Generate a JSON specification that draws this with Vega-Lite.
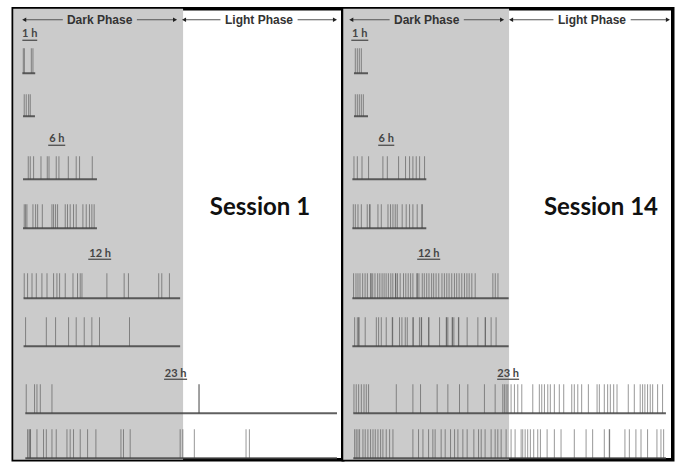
{
"$schema": "https://vega.github.io/schema/vega-lite/v6.json",
"padding": {"left": 11.25, "top": 6.75, "right": 0, "bottom": 0},
"background": "white",
"config": {"view": {"stroke": "#000", "strokeWidth": 3.5}},
"datasets": {"layout": [
{"row": "header", "y": 11},
{"row": "title", "y": 199.5},
{"row": "L1", "y": 25.5}, {"row": "U1", "y": 31.5},
{"row": "L6", "y": 130.5}, {"row": "U6", "y": 136.5},
{"row": "L12", "y": 245.5}, {"row": "U12", "y": 250.5},
{"row": "L23", "y": 365.5}, {"row": "U23", "y": 370.5},
{"row": "1a", "y": 64.5, "y2": 39.5},
{"row": "1b", "y": 107.5, "y2": 85.5},
{"row": "6a", "y": 170.5, "y2": 147.5},
{"row": "6b", "y": 219.5, "y2": 195.5},
{"row": "12a", "y": 289.5, "y2": 264.5},
{"row": "12b", "y": 337.5, "y2": 308.5},
{"row": "23a", "y": 404.5, "y2": 375.5},
{"row": "23b", "y": 449.5, "y2": 420.5}
]},
"data": {"values": [
{"session": 1, "kind": "dark", "t": -0.75, "t2": 11.93},
{"session": 14, "kind": "dark", "t": -0.75, "t2": 11.63},
{"session": 1, "kind": "arrow", "row": "header", "t": 0.07, "t2": 2.95},
{"session": 1, "kind": "arrow", "row": "header", "t": 8.48, "t2": 11.33},
{"session": 1, "kind": "arrow", "row": "header", "t": 12.0, "t2": 14.72},
{"session": 1, "kind": "arrow", "row": "header", "t": 20.48, "t2": 23.27},
{"session": 14, "kind": "arrow", "row": "header", "t": -0.15, "t2": 2.71},
{"session": 14, "kind": "arrow", "row": "header", "t": 8.25, "t2": 11.11},
{"session": 14, "kind": "arrow", "row": "header", "t": 11.78, "t2": 14.94},
{"session": 14, "kind": "arrow", "row": "header", "t": 20.71, "t2": 23.49},
{"session": 1, "kind": "head", "row": "header", "t": 0.07, "dir": "left"},
{"session": 1, "kind": "head", "row": "header", "t": 11.33, "dir": "right"},
{"session": 1, "kind": "head", "row": "header", "t": 12.0, "dir": "left"},
{"session": 1, "kind": "head", "row": "header", "t": 23.27, "dir": "right"},
{"session": 14, "kind": "head", "row": "header", "t": -0.15, "dir": "left"},
{"session": 14, "kind": "head", "row": "header", "t": 11.11, "dir": "right"},
{"session": 14, "kind": "head", "row": "header", "t": 11.78, "dir": "left"},
{"session": 14, "kind": "head", "row": "header", "t": 23.49, "dir": "right"},
{"session": 1, "kind": "phase", "row": "header", "t": 5.7, "label": "Dark Phase"},
{"session": 1, "kind": "phase", "row": "header", "t": 17.6, "label": "Light Phase"},
{"session": 14, "kind": "phase", "row": "header", "t": 5.48, "label": "Dark Phase"},
{"session": 14, "kind": "phase", "row": "header", "t": 17.82, "label": "Light Phase"},
{"session": 1, "kind": "title", "row": "title", "t": 17.67, "label": "Session 1"},
{"session": 14, "kind": "title", "row": "title", "t": 18.49, "label": "Session 14"},
{"session": 1, "kind": "rowlabel", "row": "L1", "t": 0.48, "label": "1 h"},
{"session": 1, "kind": "rowlabel", "row": "L6", "t": 2.51, "label": "6 h"},
{"session": 1, "kind": "rowlabel", "row": "L12", "t": 5.74, "label": "12 h"},
{"session": 1, "kind": "rowlabel", "row": "L23", "t": 11.37, "label": "23 h"},
{"session": 14, "kind": "rowlabel", "row": "L1", "t": 0.48, "label": "1 h"},
{"session": 14, "kind": "rowlabel", "row": "L6", "t": 2.46, "label": "6 h"},
{"session": 14, "kind": "rowlabel", "row": "L12", "t": 5.63, "label": "12 h"},
{"session": 14, "kind": "rowlabel", "row": "L23", "t": 11.56, "label": "23 h"},
{"session": 1, "kind": "ul", "row": "U1", "t": -0.07, "t2": 1.04},
{"session": 1, "kind": "ul", "row": "U6", "t": 1.86, "t2": 3.13},
{"session": 1, "kind": "ul", "row": "U12", "t": 4.85, "t2": 6.56},
{"session": 1, "kind": "ul", "row": "U23", "t": 10.51, "t2": 12.23},
{"session": 14, "kind": "ul", "row": "U1", "t": -0.15, "t2": 1.12},
{"session": 14, "kind": "ul", "row": "U6", "t": 1.86, "t2": 3.06},
{"session": 14, "kind": "ul", "row": "U12", "t": 4.77, "t2": 6.49},
{"session": 14, "kind": "ul", "row": "U23", "t": 10.74, "t2": 12.38},
{"session": 1, "kind": "base", "row": "1a", "t": -0.07, "t2": 0.89},
{"session": 1, "kind": "base", "row": "1b", "t": -0.02, "t2": 0.87},
{"session": 1, "kind": "base", "row": "6a", "t": -0.02, "t2": 5.5},
{"session": 1, "kind": "base", "row": "6b", "t": -0.02, "t2": 5.5},
{"session": 1, "kind": "base", "row": "12a", "t": 0.02, "t2": 11.71},
{"session": 1, "kind": "base", "row": "12b", "t": 0.02, "t2": 11.71},
{"session": 1, "kind": "base", "row": "23a", "t": 0.15, "t2": 23.42},
{"session": 1, "kind": "base", "row": "23b", "t": 0.15, "t2": 23.42},
{"session": 14, "kind": "base", "row": "1a", "t": 0.05, "t2": 1.1},
{"session": 14, "kind": "base", "row": "1b", "t": 0.05, "t2": 1.1},
{"session": 14, "kind": "base", "row": "6a", "t": -0.07, "t2": 5.45},
{"session": 14, "kind": "base", "row": "6b", "t": -0.07, "t2": 5.45},
{"session": 14, "kind": "base", "row": "12a", "t": -0.07, "t2": 11.6},
{"session": 14, "kind": "base", "row": "12b", "t": -0.07, "t2": 11.6},
{"session": 14, "kind": "base", "row": "23a", "t": 0.0, "t2": 23.34},
{"session": 14, "kind": "base", "row": "23b", "t": 0.0, "t2": 23.34},

{"session": 1, "kind": "event", "row": "1a", "t": 0.0},
{"session": 1, "kind": "event", "row": "1a", "t": 0.08},
{"session": 1, "kind": "event", "row": "1a", "t": 0.6},
{"session": 1, "kind": "event", "row": "1a", "t": 0.72},
{"session": 1, "kind": "event", "row": "1b", "t": 0.07},
{"session": 1, "kind": "event", "row": "1b", "t": 0.22},
{"session": 1, "kind": "event", "row": "1b", "t": 0.4},
{"session": 1, "kind": "event", "row": "1b", "t": 0.52},

{"session": 1, "kind": "event", "row": "6a", "t": 0.37},
{"session": 1, "kind": "event", "row": "6a", "t": 0.52},
{"session": 1, "kind": "event", "row": "6a", "t": 0.77},
{"session": 1, "kind": "event", "row": "6a", "t": 1.32},
{"session": 1, "kind": "event", "row": "6a", "t": 1.79},
{"session": 1, "kind": "event", "row": "6a", "t": 1.92},
{"session": 1, "kind": "event", "row": "6a", "t": 2.46},
{"session": 1, "kind": "event", "row": "6a", "t": 2.66},
{"session": 1, "kind": "event", "row": "6a", "t": 3.36},
{"session": 1, "kind": "event", "row": "6a", "t": 3.95},
{"session": 1, "kind": "event", "row": "6a", "t": 4.2},
{"session": 1, "kind": "event", "row": "6a", "t": 5.15},

{"session": 1, "kind": "event", "row": "6b", "t": 0.07},
{"session": 1, "kind": "event", "row": "6b", "t": 0.17},
{"session": 1, "kind": "event", "row": "6b", "t": 0.27},
{"session": 1, "kind": "event", "row": "6b", "t": 0.72},
{"session": 1, "kind": "event", "row": "6b", "t": 0.92},
{"session": 1, "kind": "event", "row": "6b", "t": 1.07},
{"session": 1, "kind": "event", "row": "6b", "t": 1.42},
{"session": 1, "kind": "event", "row": "6b", "t": 2.14},
{"session": 1, "kind": "event", "row": "6b", "t": 2.26},
{"session": 1, "kind": "event", "row": "6b", "t": 2.41},
{"session": 1, "kind": "event", "row": "6b", "t": 2.56},
{"session": 1, "kind": "event", "row": "6b", "t": 3.13},
{"session": 1, "kind": "event", "row": "6b", "t": 3.3},
{"session": 1, "kind": "event", "row": "6b", "t": 3.5},
{"session": 1, "kind": "event", "row": "6b", "t": 3.75},
{"session": 1, "kind": "event", "row": "6b", "t": 3.95},
{"session": 1, "kind": "event", "row": "6b", "t": 4.45},
{"session": 1, "kind": "event", "row": "6b", "t": 4.7},
{"session": 1, "kind": "event", "row": "6b", "t": 4.94},
{"session": 1, "kind": "event", "row": "6b", "t": 5.12},
{"session": 1, "kind": "event", "row": "6b", "t": 5.29},

{"session": 1, "kind": "event", "row": "12a", "t": 0.07},
{"session": 1, "kind": "event", "row": "12a", "t": 0.32},
{"session": 1, "kind": "event", "row": "12a", "t": 0.65},
{"session": 1, "kind": "event", "row": "12a", "t": 0.97},
{"session": 1, "kind": "event", "row": "12a", "t": 1.39},
{"session": 1, "kind": "event", "row": "12a", "t": 1.77},
{"session": 1, "kind": "event", "row": "12a", "t": 2.26},
{"session": 1, "kind": "event", "row": "12a", "t": 2.51},
{"session": 1, "kind": "event", "row": "12a", "t": 2.71},
{"session": 1, "kind": "event", "row": "12a", "t": 3.13},
{"session": 1, "kind": "event", "row": "12a", "t": 3.71},
{"session": 1, "kind": "event", "row": "12a", "t": 4.05},
{"session": 1, "kind": "event", "row": "12a", "t": 4.25},
{"session": 1, "kind": "event", "row": "12a", "t": 4.38},
{"session": 1, "kind": "event", "row": "12a", "t": 6.24},
{"session": 1, "kind": "event", "row": "12a", "t": 7.53},
{"session": 1, "kind": "event", "row": "12a", "t": 7.85},
{"session": 1, "kind": "event", "row": "12a", "t": 10.11},
{"session": 1, "kind": "event", "row": "12a", "t": 10.34},
{"session": 1, "kind": "event", "row": "12a", "t": 10.91},

{"session": 1, "kind": "event", "row": "12b", "t": 0.17},
{"session": 1, "kind": "event", "row": "12b", "t": 1.72},
{"session": 1, "kind": "event", "row": "12b", "t": 2.41},
{"session": 1, "kind": "event", "row": "12b", "t": 3.38},
{"session": 1, "kind": "event", "row": "12b", "t": 3.95},
{"session": 1, "kind": "event", "row": "12b", "t": 4.55},
{"session": 1, "kind": "event", "row": "12b", "t": 5.12},
{"session": 1, "kind": "event", "row": "12b", "t": 5.69},
{"session": 1, "kind": "event", "row": "12b", "t": 7.93},

{"session": 1, "kind": "event", "row": "23a", "t": 0.22},
{"session": 1, "kind": "event", "row": "23a", "t": 0.84},
{"session": 1, "kind": "event", "row": "23a", "t": 1.02},
{"session": 1, "kind": "event", "row": "23a", "t": 1.27},
{"session": 1, "kind": "event", "row": "23a", "t": 2.14},
{"session": 1, "kind": "event", "row": "23a", "t": 13.1},
{"session": 1, "kind": "event", "row": "23a", "t": 13.14},

{"session": 1, "kind": "event", "row": "23b", "t": 0.32},
{"session": 1, "kind": "event", "row": "23b", "t": 0.43},
{"session": 1, "kind": "event", "row": "23b", "t": 0.5},
{"session": 1, "kind": "event", "row": "23b", "t": 0.54},
{"session": 1, "kind": "event", "row": "23b", "t": 1.02},
{"session": 1, "kind": "event", "row": "23b", "t": 1.51},
{"session": 1, "kind": "event", "row": "23b", "t": 1.72},
{"session": 1, "kind": "event", "row": "23b", "t": 2.14},
{"session": 1, "kind": "event", "row": "23b", "t": 2.46},
{"session": 1, "kind": "event", "row": "23b", "t": 3.26},
{"session": 1, "kind": "event", "row": "23b", "t": 3.5},
{"session": 1, "kind": "event", "row": "23b", "t": 3.75},
{"session": 1, "kind": "event", "row": "23b", "t": 4.25},
{"session": 1, "kind": "event", "row": "23b", "t": 4.8},
{"session": 1, "kind": "event", "row": "23b", "t": 5.42},
{"session": 1, "kind": "event", "row": "23b", "t": 7.29},
{"session": 1, "kind": "event", "row": "23b", "t": 7.48},
{"session": 1, "kind": "event", "row": "23b", "t": 7.98},
{"session": 1, "kind": "event", "row": "23b", "t": 11.71},
{"session": 1, "kind": "event", "row": "23b", "t": 11.91},
{"session": 1, "kind": "event", "row": "23b", "t": 12.77},
{"session": 1, "kind": "event", "row": "23b", "t": 16.63},
{"session": 1, "kind": "event", "row": "23b", "t": 16.88},

{"session": 14, "kind": "event", "row": "1a", "t": 0.15},
{"session": 14, "kind": "event", "row": "1a", "t": 0.3},
{"session": 14, "kind": "event", "row": "1a", "t": 0.45},
{"session": 14, "kind": "event", "row": "1a", "t": 0.6},
{"session": 14, "kind": "event", "row": "1b", "t": 0.15},
{"session": 14, "kind": "event", "row": "1b", "t": 0.3},
{"session": 14, "kind": "event", "row": "1b", "t": 0.45},
{"session": 14, "kind": "event", "row": "1b", "t": 0.6},
{"session": 14, "kind": "event", "row": "1b", "t": 0.75},

{"session": 14, "kind": "event", "row": "6a", "t": 0.05},
{"session": 14, "kind": "event", "row": "6a", "t": 0.3},
{"session": 14, "kind": "event", "row": "6a", "t": 0.65},
{"session": 14, "kind": "event", "row": "6a", "t": 1.14},
{"session": 14, "kind": "event", "row": "6a", "t": 2.21},
{"session": 14, "kind": "event", "row": "6a", "t": 2.54},
{"session": 14, "kind": "event", "row": "6a", "t": 3.38},
{"session": 14, "kind": "event", "row": "6a", "t": 3.9},
{"session": 14, "kind": "event", "row": "6a", "t": 4.2},
{"session": 14, "kind": "event", "row": "6a", "t": 4.45},
{"session": 14, "kind": "event", "row": "6a", "t": 4.7},
{"session": 14, "kind": "event", "row": "6a", "t": 4.95},
{"session": 14, "kind": "event", "row": "6a", "t": 5.32},

{"session": 14, "kind": "event", "row": "6b", "t": 0.0},
{"session": 14, "kind": "event", "row": "6b", "t": 0.15},
{"session": 14, "kind": "event", "row": "6b", "t": 0.35},
{"session": 14, "kind": "event", "row": "6b", "t": 0.6},
{"session": 14, "kind": "event", "row": "6b", "t": 1.04},
{"session": 14, "kind": "event", "row": "6b", "t": 1.22},
{"session": 14, "kind": "event", "row": "6b", "t": 1.25},
{"session": 14, "kind": "event", "row": "6b", "t": 1.84},
{"session": 14, "kind": "event", "row": "6b", "t": 2.09},
{"session": 14, "kind": "event", "row": "6b", "t": 2.59},
{"session": 14, "kind": "event", "row": "6b", "t": 2.78},
{"session": 14, "kind": "event", "row": "6b", "t": 2.96},
{"session": 14, "kind": "event", "row": "6b", "t": 3.13},
{"session": 14, "kind": "event", "row": "6b", "t": 3.28},
{"session": 14, "kind": "event", "row": "6b", "t": 3.65},
{"session": 14, "kind": "event", "row": "6b", "t": 3.95},
{"session": 14, "kind": "event", "row": "6b", "t": 4.2},
{"session": 14, "kind": "event", "row": "6b", "t": 4.45},
{"session": 14, "kind": "event", "row": "6b", "t": 4.77},
{"session": 14, "kind": "event", "row": "6b", "t": 5.12},
{"session": 14, "kind": "event", "row": "6b", "t": 5.15},

{"session": 14, "kind": "event", "row": "12a", "t": 0.02},
{"session": 14, "kind": "event", "row": "12a", "t": 0.2},
{"session": 14, "kind": "event", "row": "12a", "t": 0.35},
{"session": 14, "kind": "event", "row": "12a", "t": 0.5},
{"session": 14, "kind": "event", "row": "12a", "t": 0.7},
{"session": 14, "kind": "event", "row": "12a", "t": 0.88},
{"session": 14, "kind": "event", "row": "12a", "t": 1.05},
{"session": 14, "kind": "event", "row": "12a", "t": 1.3},
{"session": 14, "kind": "event", "row": "12a", "t": 1.33},
{"session": 14, "kind": "event", "row": "12a", "t": 1.45},
{"session": 14, "kind": "event", "row": "12a", "t": 1.62},
{"session": 14, "kind": "event", "row": "12a", "t": 1.82},
{"session": 14, "kind": "event", "row": "12a", "t": 1.98},
{"session": 14, "kind": "event", "row": "12a", "t": 2.15},
{"session": 14, "kind": "event", "row": "12a", "t": 2.3},
{"session": 14, "kind": "event", "row": "12a", "t": 2.45},
{"session": 14, "kind": "event", "row": "12a", "t": 2.62},
{"session": 14, "kind": "event", "row": "12a", "t": 2.8},
{"session": 14, "kind": "event", "row": "12a", "t": 2.95},
{"session": 14, "kind": "event", "row": "12a", "t": 3.15},
{"session": 14, "kind": "event", "row": "12a", "t": 3.18},
{"session": 14, "kind": "event", "row": "12a", "t": 3.3},
{"session": 14, "kind": "event", "row": "12a", "t": 3.5},
{"session": 14, "kind": "event", "row": "12a", "t": 3.75},
{"session": 14, "kind": "event", "row": "12a", "t": 3.92},
{"session": 14, "kind": "event", "row": "12a", "t": 4.1},
{"session": 14, "kind": "event", "row": "12a", "t": 4.28},
{"session": 14, "kind": "event", "row": "12a", "t": 4.45},
{"session": 14, "kind": "event", "row": "12a", "t": 4.75},
{"session": 14, "kind": "event", "row": "12a", "t": 4.78},
{"session": 14, "kind": "event", "row": "12a", "t": 4.9},
{"session": 14, "kind": "event", "row": "12a", "t": 5.15},
{"session": 14, "kind": "event", "row": "12a", "t": 5.3},
{"session": 14, "kind": "event", "row": "12a", "t": 5.48},
{"session": 14, "kind": "event", "row": "12a", "t": 5.65},
{"session": 14, "kind": "event", "row": "12a", "t": 5.85},
{"session": 14, "kind": "event", "row": "12a", "t": 6.0},
{"session": 14, "kind": "event", "row": "12a", "t": 6.18},
{"session": 14, "kind": "event", "row": "12a", "t": 6.38},
{"session": 14, "kind": "event", "row": "12a", "t": 6.62},
{"session": 14, "kind": "event", "row": "12a", "t": 6.8},
{"session": 14, "kind": "event", "row": "12a", "t": 6.98},
{"session": 14, "kind": "event", "row": "12a", "t": 7.15},
{"session": 14, "kind": "event", "row": "12a", "t": 7.35},
{"session": 14, "kind": "event", "row": "12a", "t": 7.55},
{"session": 14, "kind": "event", "row": "12a", "t": 7.72},
{"session": 14, "kind": "event", "row": "12a", "t": 7.9},
{"session": 14, "kind": "event", "row": "12a", "t": 8.1},
{"session": 14, "kind": "event", "row": "12a", "t": 8.3},
{"session": 14, "kind": "event", "row": "12a", "t": 8.48},
{"session": 14, "kind": "event", "row": "12a", "t": 8.65},
{"session": 14, "kind": "event", "row": "12a", "t": 8.85},
{"session": 14, "kind": "event", "row": "12a", "t": 9.1},
{"session": 14, "kind": "event", "row": "12a", "t": 10.42},
{"session": 14, "kind": "event", "row": "12a", "t": 10.6},
{"session": 14, "kind": "event", "row": "12a", "t": 10.8},

{"session": 14, "kind": "event", "row": "12b", "t": 0.1},
{"session": 14, "kind": "event", "row": "12b", "t": 0.3},
{"session": 14, "kind": "event", "row": "12b", "t": 0.4},
{"session": 14, "kind": "event", "row": "12b", "t": 0.43},
{"session": 14, "kind": "event", "row": "12b", "t": 0.89},
{"session": 14, "kind": "event", "row": "12b", "t": 1.72},
{"session": 14, "kind": "event", "row": "12b", "t": 1.89},
{"session": 14, "kind": "event", "row": "12b", "t": 2.09},
{"session": 14, "kind": "event", "row": "12b", "t": 2.46},
{"session": 14, "kind": "event", "row": "12b", "t": 2.91},
{"session": 14, "kind": "event", "row": "12b", "t": 2.94},
{"session": 14, "kind": "event", "row": "12b", "t": 3.45},
{"session": 14, "kind": "event", "row": "12b", "t": 3.63},
{"session": 14, "kind": "event", "row": "12b", "t": 3.88},
{"session": 14, "kind": "event", "row": "12b", "t": 4.03},
{"session": 14, "kind": "event", "row": "12b", "t": 4.45},
{"session": 14, "kind": "event", "row": "12b", "t": 4.48},
{"session": 14, "kind": "event", "row": "12b", "t": 4.94},
{"session": 14, "kind": "event", "row": "12b", "t": 5.07},
{"session": 14, "kind": "event", "row": "12b", "t": 5.1},
{"session": 14, "kind": "event", "row": "12b", "t": 5.62},
{"session": 14, "kind": "event", "row": "12b", "t": 5.65},
{"session": 14, "kind": "event", "row": "12b", "t": 6.44},
{"session": 14, "kind": "event", "row": "12b", "t": 6.94},
{"session": 14, "kind": "event", "row": "12b", "t": 6.97},
{"session": 14, "kind": "event", "row": "12b", "t": 7.06},
{"session": 14, "kind": "event", "row": "12b", "t": 7.38},
{"session": 14, "kind": "event", "row": "12b", "t": 7.41},
{"session": 14, "kind": "event", "row": "12b", "t": 7.51},
{"session": 14, "kind": "event", "row": "12b", "t": 7.85},
{"session": 14, "kind": "event", "row": "12b", "t": 7.88},
{"session": 14, "kind": "event", "row": "12b", "t": 8.5},
{"session": 14, "kind": "event", "row": "12b", "t": 9.3},
{"session": 14, "kind": "event", "row": "12b", "t": 9.84},
{"session": 14, "kind": "event", "row": "12b", "t": 9.87},
{"session": 14, "kind": "event", "row": "12b", "t": 10.29},
{"session": 14, "kind": "event", "row": "12b", "t": 10.66},

{"session": 14, "kind": "event", "row": "23a", "t": 0.05},
{"session": 14, "kind": "event", "row": "23a", "t": 0.22},
{"session": 14, "kind": "event", "row": "23a", "t": 0.4},
{"session": 14, "kind": "event", "row": "23a", "t": 0.6},
{"session": 14, "kind": "event", "row": "23a", "t": 0.8},
{"session": 14, "kind": "event", "row": "23a", "t": 0.97},
{"session": 14, "kind": "event", "row": "23a", "t": 1.14},
{"session": 14, "kind": "event", "row": "23a", "t": 3.21},
{"session": 14, "kind": "event", "row": "23a", "t": 4.45},
{"session": 14, "kind": "event", "row": "23a", "t": 5.02},
{"session": 14, "kind": "event", "row": "23a", "t": 6.26},
{"session": 14, "kind": "event", "row": "23a", "t": 7.06},
{"session": 14, "kind": "event", "row": "23a", "t": 7.93},
{"session": 14, "kind": "event", "row": "23a", "t": 8.55},
{"session": 14, "kind": "event", "row": "23a", "t": 9.79},
{"session": 14, "kind": "event", "row": "23a", "t": 10.59},
{"session": 14, "kind": "event", "row": "23a", "t": 11.16},
{"session": 14, "kind": "event", "row": "23a", "t": 11.28},
{"session": 14, "kind": "event", "row": "23a", "t": 11.41},
{"session": 14, "kind": "event", "row": "23a", "t": 11.54},
{"session": 14, "kind": "event", "row": "23a", "t": 11.78},
{"session": 14, "kind": "event", "row": "23a", "t": 12.03},
{"session": 14, "kind": "event", "row": "23a", "t": 12.28},
{"session": 14, "kind": "event", "row": "23a", "t": 12.58},
{"session": 14, "kind": "event", "row": "23a", "t": 13.4},
{"session": 14, "kind": "event", "row": "23a", "t": 13.89},
{"session": 14, "kind": "event", "row": "23a", "t": 14.07},
{"session": 14, "kind": "event", "row": "23a", "t": 14.27},
{"session": 14, "kind": "event", "row": "23a", "t": 14.52},
{"session": 14, "kind": "event", "row": "23a", "t": 14.71},
{"session": 14, "kind": "event", "row": "23a", "t": 15.01},
{"session": 14, "kind": "event", "row": "23a", "t": 15.38},
{"session": 14, "kind": "event", "row": "23a", "t": 15.71},
{"session": 14, "kind": "event", "row": "23a", "t": 16.31},
{"session": 14, "kind": "event", "row": "23a", "t": 16.5},
{"session": 14, "kind": "event", "row": "23a", "t": 16.76},
{"session": 14, "kind": "event", "row": "23a", "t": 17.05},
{"session": 14, "kind": "event", "row": "23a", "t": 17.55},
{"session": 14, "kind": "event", "row": "23a", "t": 18.2},
{"session": 14, "kind": "event", "row": "23a", "t": 18.37},
{"session": 14, "kind": "event", "row": "23a", "t": 18.74},
{"session": 14, "kind": "event", "row": "23a", "t": 18.99},
{"session": 14, "kind": "event", "row": "23a", "t": 19.19},
{"session": 14, "kind": "event", "row": "23a", "t": 19.44},
{"session": 14, "kind": "event", "row": "23a", "t": 19.69},
{"session": 14, "kind": "event", "row": "23a", "t": 20.53},
{"session": 14, "kind": "event", "row": "23a", "t": 20.98},
{"session": 14, "kind": "event", "row": "23a", "t": 21.42},
{"session": 14, "kind": "event", "row": "23a", "t": 21.6},
{"session": 14, "kind": "event", "row": "23a", "t": 21.77},
{"session": 14, "kind": "event", "row": "23a", "t": 21.97},
{"session": 14, "kind": "event", "row": "23a", "t": 22.17},
{"session": 14, "kind": "event", "row": "23a", "t": 22.35},
{"session": 14, "kind": "event", "row": "23a", "t": 22.72},
{"session": 14, "kind": "event", "row": "23a", "t": 23.09},

{"session": 14, "kind": "event", "row": "23b", "t": 0.1},
{"session": 14, "kind": "event", "row": "23b", "t": 0.22},
{"session": 14, "kind": "event", "row": "23b", "t": 0.35},
{"session": 14, "kind": "event", "row": "23b", "t": 0.47},
{"session": 14, "kind": "event", "row": "23b", "t": 0.72},
{"session": 14, "kind": "event", "row": "23b", "t": 0.89},
{"session": 14, "kind": "event", "row": "23b", "t": 1.09},
{"session": 14, "kind": "event", "row": "23b", "t": 1.29},
{"session": 14, "kind": "event", "row": "23b", "t": 1.47},
{"session": 14, "kind": "event", "row": "23b", "t": 1.64},
{"session": 14, "kind": "event", "row": "23b", "t": 1.84},
{"session": 14, "kind": "event", "row": "23b", "t": 2.04},
{"session": 14, "kind": "event", "row": "23b", "t": 2.21},
{"session": 14, "kind": "event", "row": "23b", "t": 2.46},
{"session": 14, "kind": "event", "row": "23b", "t": 2.71},
{"session": 14, "kind": "event", "row": "23b", "t": 2.96},
{"session": 14, "kind": "event", "row": "23b", "t": 4.45},
{"session": 14, "kind": "event", "row": "23b", "t": 4.87},
{"session": 14, "kind": "event", "row": "23b", "t": 5.2},
{"session": 14, "kind": "event", "row": "23b", "t": 5.62},
{"session": 14, "kind": "event", "row": "23b", "t": 5.94},
{"session": 14, "kind": "event", "row": "23b", "t": 6.11},
{"session": 14, "kind": "event", "row": "23b", "t": 6.56},
{"session": 14, "kind": "event", "row": "23b", "t": 6.86},
{"session": 14, "kind": "event", "row": "23b", "t": 7.26},
{"session": 14, "kind": "event", "row": "23b", "t": 7.56},
{"session": 14, "kind": "event", "row": "23b", "t": 7.81},
{"session": 14, "kind": "event", "row": "23b", "t": 8.18},
{"session": 14, "kind": "event", "row": "23b", "t": 8.5},
{"session": 14, "kind": "event", "row": "23b", "t": 9.0},
{"session": 14, "kind": "event", "row": "23b", "t": 9.35},
{"session": 14, "kind": "event", "row": "23b", "t": 9.55},
{"session": 14, "kind": "event", "row": "23b", "t": 9.84},
{"session": 14, "kind": "event", "row": "23b", "t": 10.29},
{"session": 14, "kind": "event", "row": "23b", "t": 10.59},
{"session": 14, "kind": "event", "row": "23b", "t": 10.79},
{"session": 14, "kind": "event", "row": "23b", "t": 11.04},
{"session": 14, "kind": "event", "row": "23b", "t": 11.41},
{"session": 14, "kind": "event", "row": "23b", "t": 11.78},
{"session": 14, "kind": "event", "row": "23b", "t": 12.08},
{"session": 14, "kind": "event", "row": "23b", "t": 12.53},
{"session": 14, "kind": "event", "row": "23b", "t": 12.65},
{"session": 14, "kind": "event", "row": "23b", "t": 12.83},
{"session": 14, "kind": "event", "row": "23b", "t": 13.02},
{"session": 14, "kind": "event", "row": "23b", "t": 13.22},
{"session": 14, "kind": "event", "row": "23b", "t": 13.47},
{"session": 14, "kind": "event", "row": "23b", "t": 13.77},
{"session": 14, "kind": "event", "row": "23b", "t": 13.97},
{"session": 14, "kind": "event", "row": "23b", "t": 14.47},
{"session": 14, "kind": "event", "row": "23b", "t": 15.01},
{"session": 14, "kind": "event", "row": "23b", "t": 15.51},
{"session": 14, "kind": "event", "row": "23b", "t": 16.5},
{"session": 14, "kind": "event", "row": "23b", "t": 17.38},
{"session": 14, "kind": "event", "row": "23b", "t": 17.87},
{"session": 14, "kind": "event", "row": "23b", "t": 18.74},
{"session": 14, "kind": "event", "row": "23b", "t": 19.11},
{"session": 14, "kind": "event", "row": "23b", "t": 19.14},
{"session": 14, "kind": "event", "row": "23b", "t": 20.28},
{"session": 14, "kind": "event", "row": "23b", "t": 20.61},
{"session": 14, "kind": "event", "row": "23b", "t": 21.1},
{"session": 14, "kind": "event", "row": "23b", "t": 21.48},
{"session": 14, "kind": "event", "row": "23b", "t": 21.97},
{"session": 14, "kind": "event", "row": "23b", "t": 22.67},
{"session": 14, "kind": "event", "row": "23b", "t": 22.97},
{"session": 14, "kind": "event", "row": "23b", "t": 23.17}
]},
"transform": [{"lookup": "row", "from": {"data": {"name": "layout"}, "key": "row", "fields": ["y", "y2"]}}],
"facet": {"column": {"field": "session", "type": "ordinal", "sort": [1, 14], "header": null}},
"spacing": 0,
"bounds": "flush",
"spec": {
"width": 329.5,
"height": 451,
"layer": [
{"transform": [{"filter": "datum.kind == 'dark'"}],
 "mark": {"type": "rect", "color": "#cbcbcb"},
 "encoding": {
  "x": {"field": "t", "type": "quantitative", "scale": {"domain": [-0.75, 23.85], "nice": false, "zero": false}, "axis": null},
  "x2": {"field": "t2"}}},
{"transform": [{"filter": "datum.kind == 'event'"}],
 "mark": {"type": "rule", "color": "#444", "strokeWidth": 1, "opacity": 0.55},
 "encoding": {
  "x": {"field": "t", "type": "quantitative", "scale": {"domain": [-0.75, 23.85], "nice": false, "zero": false}, "axis": null},
  "y": {"field": "y", "type": "quantitative", "scale": {"domain": [0, 451], "reverse": true, "nice": false, "zero": false}, "axis": null},
  "y2": {"field": "y2"}}},
{"transform": [{"filter": "datum.kind == 'base'"}],
 "mark": {"type": "rule", "color": "#444", "strokeWidth": 2, "opacity": 0.85},
 "encoding": {
  "x": {"field": "t", "type": "quantitative", "scale": {"domain": [-0.75, 23.85], "nice": false, "zero": false}, "axis": null},
  "x2": {"field": "t2"},
  "y": {"field": "y", "type": "quantitative", "scale": {"domain": [0, 451], "reverse": true, "nice": false, "zero": false}, "axis": null}}},
{"transform": [{"filter": "datum.kind == 'arrow'"}],
 "mark": {"type": "rule", "color": "#555", "strokeWidth": 1},
 "encoding": {
  "x": {"field": "t", "type": "quantitative", "scale": {"domain": [-0.75, 23.85], "nice": false, "zero": false}, "axis": null},
  "x2": {"field": "t2"},
  "y": {"field": "y", "type": "quantitative", "scale": {"domain": [0, 451], "reverse": true, "nice": false, "zero": false}, "axis": null}}},
{"transform": [{"filter": "datum.kind == 'head'"}],
 "mark": {"type": "point", "filled": true, "color": "#222", "size": 22, "opacity": 1},
 "encoding": {
  "x": {"field": "t", "type": "quantitative", "scale": {"domain": [-0.75, 23.85], "nice": false, "zero": false}, "axis": null},
  "y": {"field": "y", "type": "quantitative", "scale": {"domain": [0, 451], "reverse": true, "nice": false, "zero": false}, "axis": null},
  "shape": {"field": "dir", "type": "nominal", "scale": {"domain": ["left", "right"], "range": ["triangle-left", "triangle-right"]}, "legend": null}}},
{"transform": [{"filter": "datum.kind == 'phase'"}],
 "mark": {"type": "text", "font": "Liberation Sans", "fontWeight": "bold", "fontSize": 12, "color": "#333", "align": "center", "baseline": "middle"},
 "encoding": {
  "x": {"field": "t", "type": "quantitative", "scale": {"domain": [-0.75, 23.85], "nice": false, "zero": false}, "axis": null},
  "y": {"field": "y", "type": "quantitative", "scale": {"domain": [0, 451], "reverse": true, "nice": false, "zero": false}, "axis": null},
  "text": {"field": "label"}}},
{"transform": [{"filter": "datum.kind == 'rowlabel'"}],
 "mark": {"type": "text", "font": "Lato", "fontWeight": "bold", "fontSize": 11, "color": "#444", "align": "center", "baseline": "middle"},
 "encoding": {
  "x": {"field": "t", "type": "quantitative", "scale": {"domain": [-0.75, 23.85], "nice": false, "zero": false}, "axis": null},
  "y": {"field": "y", "type": "quantitative", "scale": {"domain": [0, 451], "reverse": true, "nice": false, "zero": false}, "axis": null},
  "text": {"field": "label"}}},
{"transform": [{"filter": "datum.kind == 'ul'"}],
 "mark": {"type": "rule", "color": "#444", "strokeWidth": 1.2},
 "encoding": {
  "x": {"field": "t", "type": "quantitative", "scale": {"domain": [-0.75, 23.85], "nice": false, "zero": false}, "axis": null},
  "x2": {"field": "t2"},
  "y": {"field": "y", "type": "quantitative", "scale": {"domain": [0, 451], "reverse": true, "nice": false, "zero": false}, "axis": null}}},
{"transform": [{"filter": "datum.kind == 'title'"}],
 "mark": {"type": "text", "font": "Lato", "fontWeight": "bold", "fontSize": 24, "color": "#111", "align": "center", "baseline": "middle"},
 "encoding": {
  "x": {"field": "t", "type": "quantitative", "scale": {"domain": [-0.75, 23.85], "nice": false, "zero": false}, "axis": null},
  "y": {"field": "y", "type": "quantitative", "scale": {"domain": [0, 451], "reverse": true, "nice": false, "zero": false}, "axis": null},
  "text": {"field": "label"}}}
]}
}
